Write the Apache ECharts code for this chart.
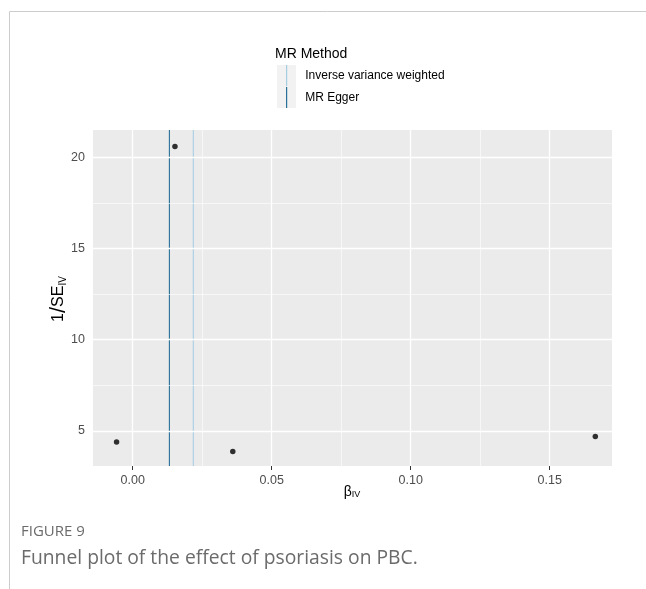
<!DOCTYPE html>
<html>
<head>
<meta charset="utf-8">
<script src="https://cdn.jsdelivr.net/npm/echarts@6/dist/echarts.min.js"></script>
<style>
html,body{margin:0;padding:0;background:#fff;}
#chart{width:646px;height:589px;}
</style>
</head>
<body>
<div id="chart"></div>
<script>
// ---- data ----
const betaIV = [-0.0058, 0.0152, 0.0360, 0.1664];
const invSE = [4.40, 20.58, 3.87, 4.69];
const methodNames = ["Inverse variance weighted", "MR Egger"];
const methodEstimates = [0.0218, 0.0132];
const methodColors = ["#a6cee3", "#2a7199"];
const xTicks = [0, 0.05, 0.10, 0.15];
const xMinorGrid = [0.025, 0.075, 0.125];
const yTicks = [5, 10, 15, 20];
const yMinorGrid = [7.5, 12.5, 17.5];
const xRange = [-0.01428, 0.1724];
const yRange = [3.08, 21.49];

const chart = echarts.init(document.getElementById('chart'), null, {renderer: 'canvas'});
const FONT = '"Liberation Sans", Arial, sans-serif';
const points = betaIV.map((b, i) => [b, invSE[i]]);

function gridLines(vals, axisKey, width) {
  return vals.map(v => ({[axisKey]: v, lineStyle: {color: '#ffffff', width: width, type: 'solid'}}));
}

const series = [
  {
    name: 'grid',
    type: 'scatter',
    data: [],
    silent: true,
    z: 1,
    markLine: {
      silent: true, symbol: 'none', animation: false, precision: 6,
      label: {show: false},
      data: [].concat(
        gridLines(xMinorGrid, 'xAxis', 0.6),
        gridLines(yMinorGrid, 'yAxis', 0.6),
        gridLines(xTicks, 'xAxis', 1.3),
        gridLines(yTicks, 'yAxis', 1.3)
      )
    }
  }
];
methodNames.forEach((name, i) => {
  series.push({
    name: name,
    type: 'line',
    data: [[methodEstimates[i], yRange[0]], [methodEstimates[i], yRange[1]]],
    color: methodColors[i],
    showSymbol: false,
    symbol: 'none',
    silent: true,
    z: 3,
    lineStyle: {color: methodColors[i], width: 1.1, type: 'solid'},
    itemStyle: {color: methodColors[i]}
  });
});
series.push({
  name: 'points',
  type: 'scatter',
  data: points,
  symbol: 'circle',
  symbolSize: 5.5,
  itemStyle: {color: '#000000'},
  z: 5
});

const option = {
  animation: false,
  textStyle: {fontFamily: FONT},
  title: [
    {text: 'MR Method', left: 275, top: 47, padding: 0, textStyle: {fontFamily: FONT, fontSize: 14, fontWeight: 'normal', color: '#000'}},
    {text: 'FIGURE 9', left: 21, top: 524, padding: 0, textStyle: {fontFamily: '"Open Sans", sans-serif', fontSize: 15, fontWeight: 'normal', color: '#6b6b6b'}},
    {text: 'Funnel plot of the effect of psoriasis on PBC.', left: 21, top: 549, padding: 0, textStyle: {fontFamily: '"Open Sans", sans-serif', fontSize: 19.3, fontWeight: 'normal', color: '#6b6b6b'}}
  ],
  graphic: [
    {type: 'line', shape: {x1: 9.5, y1: 11.5, x2: 646, y2: 11.5}, style: {stroke: '#cccccc', lineWidth: 1}},
    {type: 'line', shape: {x1: 9.5, y1: 11.5, x2: 9.5, y2: 589}, style: {stroke: '#cccccc', lineWidth: 1}},
    {type: 'rect', shape: {x: 277, y: 65, width: 19, height: 43}, style: {fill: '#f2f2f2'}, z: -1},
    {
      type: 'text', x: 59, y: 299, rotation: Math.PI / 2,
      style: {
        text: '{b|1}{sl|/}{b|SE}{s|IV}', align: 'center', verticalAlign: 'middle',
        rich: {
          b: {fontFamily: FONT, fontSize: 16, fill: '#000'},
          sl: {fontFamily: FONT, fontSize: 22, fill: '#000'},
          s: {fontFamily: FONT, fontSize: 10, fill: '#000', padding: [8, 0, 0, 0]}
        }
      }
    },
    {
      type: 'text', x: 352, y: 492,
      style: {
        text: '{b|β}{s|IV}', align: 'center', verticalAlign: 'middle',
        rich: {
          b: {fontFamily: FONT, fontSize: 14, fill: '#000'},
          s: {fontFamily: FONT, fontSize: 9, fill: '#000', padding: [6, 0, 0, 0]}
        }
      }
    }
  ],
  legend: {
    data: methodNames,
    orient: 'vertical',
    left: 286,
    top: 65,
    padding: 0,
    itemWidth: 1.2,
    itemHeight: 21,
    itemGap: 1,
    icon: 'path://M0,0 L1.2,0 L1.2,21 L0,21 Z',
    textStyle: {fontFamily: FONT, fontSize: 12, color: '#000', padding: [0, 0, 0, 13]},
    selectedMode: false
  },
  grid: {
    left: 93, top: 130, width: 519, height: 336,
    show: true, backgroundColor: '#ebebeb', borderWidth: 0
  },
  xAxis: {
    type: 'value',
    min: xRange[0], max: xRange[1],
    axisLine: {show: false},
    splitLine: {show: false},
    axisTick: {show: true, length: 4, lineStyle: {color: '#333', width: 1}, customValues: xTicks},
    axisLabel: {
      customValues: xTicks, margin: 8,
      fontFamily: FONT, fontSize: 12.5, color: '#4d4d4d',
      formatter: v => v.toFixed(2)
    }
  },
  yAxis: {
    type: 'value',
    min: yRange[0], max: yRange[1],
    axisLine: {show: false},
    splitLine: {show: false},
    axisTick: {show: true, length: 4, lineStyle: {color: '#333', width: 1}, customValues: yTicks},
    axisLabel: {
      customValues: yTicks, margin: 8,
      fontFamily: FONT, fontSize: 12.5, color: '#4d4d4d'
    }
  },
  series: series
};
chart.setOption(option);
</script>
</body>
</html>
